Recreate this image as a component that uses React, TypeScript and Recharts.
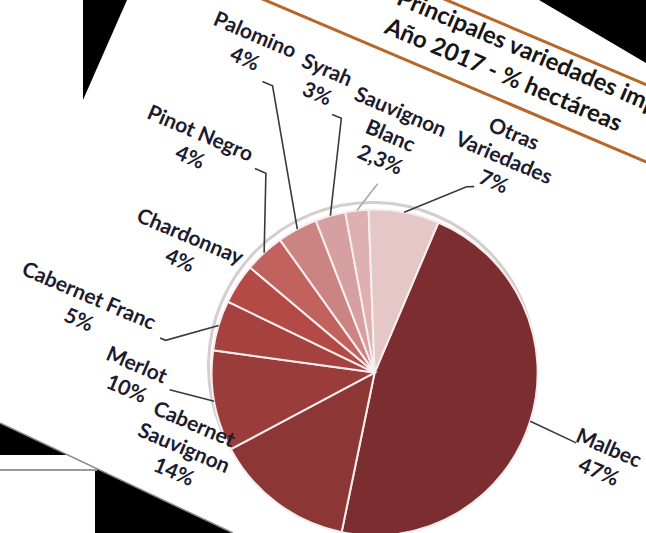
import React from "react";
import { PieChart, Pie, Cell } from "recharts";

// Superficie por variedad, año 2017 (% hectáreas)
const VARIETIES = [
  "Malbec", "Cabernet Sauvignon", "Merlot", "Cabernet Franc", "Chardonnay",
  "Pinot Negro", "Palomino", "Syrah", "Sauvignon Blanc", "Otras Variedades",
];
const SHARES = [47, 14, 10, 5, 4, 4, 4, 3, 2.3, 7];
const SHARE_TEXT = ["47%", "14%", "10%", "5%", "4%", "4%", "4%", "3%", "2,3%", "7%"];
const NAME_LINES = [
  ["Malbec"], ["Cabernet", "Sauvignon"], ["Merlot"], ["Cabernet Franc"], ["Chardonnay"],
  ["Pinot Negro"], ["Palomino"], ["Syrah"], ["Sauvignon", "Blanc"], ["Otras", "Variedades"],
];
const TITLE_LINES = ["Principales variedades implantadas", "Año 2017 - % hectáreas"];

const SLICE_COLORS = [
  "#7c2d2f", "#8c3635", "#9a3c3a", "#a5423f", "#b44a46",
  "#c2625f", "#cc8483", "#d6a0a0", "#deb0b1", "#e6c7c8",
];

// label centre + leader bend/end, relative to the pie centre (unrotated frame)
const LABEL_LAYOUT: { at: [number, number]; leader: [number, number][]; lineColor?: string }[] = [
  { at: [245, -11], leader: [[213, -14]] },
  { at: [-146, 142], leader: [] },
  { at: [-222, 97], leader: [[-182, 96]] },
  { at: [-293, 52], leader: [[-205, 52], [-211, 52]] },
  { at: [-223, -42], leader: [] },
  { at: [-254, -141], leader: [[-178, -141], [-190, -141]] },
  { at: [-242, -253], leader: [[-206, -224], [-217, -224]] },
  { at: [-162, -249], leader: [[-130, -221], [-140, -221]] },
  { at: [-78, -226], leader: [[-71, -175]], lineColor: "#a9a9a9" },
  { at: [35, -250], leader: [[12, -207], [19, -210]] },
];

const data = VARIETIES.map((name, i) => ({ name, value: SHARES[i] }));

const SIZE = 800;
const C = SIZE / 2;
const R = 163;
const LH = 26;
const FONT = "Lato, 'Open Sans', sans-serif";

const RAD = Math.PI / 180;

function renderLabel(props: any) {
  const { cx, cy, midAngle, outerRadius, index } = props;
  const lay = LABEL_LAYOUT[index];
  const lines = [...NAME_LINES[index], SHARE_TEXT[index]];
  const sx = cx + outerRadius * Math.cos(-midAngle * RAD);
  const sy = cy + outerRadius * Math.sin(-midAngle * RAD);
  const pts = [[sx, sy], ...lay.leader.map(([x, y]) => [cx + x, cy + y])];
  const lx = cx + lay.at[0];
  const ly = cy + lay.at[1] - ((lines.length - 1) * LH) / 2;
  return (
    <g key={`lbl-${index}`}>
      {lay.leader.length > 0 && (
        <polyline
          points={pts.map((p) => p.join(",")).join(" ")}
          fill="none"
          stroke={lay.lineColor ?? "#3a3a3a"}
          strokeWidth={1.6}
        />
      )}
      <text
        x={lx}
        y={ly}
        textAnchor="middle"
        dominantBaseline="central"
        fontFamily={FONT}
        fontWeight={700}
        fontSize={21}
        fill="#1c1c2e"
      >
        {lines.map((t, k) => (
          <tspan key={k} x={lx} y={ly + k * LH}>{t}</tspan>
        ))}
      </text>
    </g>
  );
}

export default function App() {
  return (
    <div style={{ position: "absolute", left: 0, top: 0, width: 646, height: 533, overflow: "hidden", background: "#fff" }}>
      {/* scanned-page background */}
      <svg width={646} height={533} style={{ position: "absolute", left: 0, top: 0 }}>
        <polygon points="83,0 127,0 83,100" fill="#000" />
        <polygon points="539,0 646,0 646,63" fill="#000" />
        <polygon points="0,423 233,533 0,533" fill="#000" />
        <polygon points="0,455 68,455 100,470 0,470" fill="#fff" />
        <rect x={0} y={471} width={95} height={62} fill="#fff" />
        <line x1={0} y1={470} x2={97} y2={470} stroke="#9a9a9a" strokeWidth={2} />
        <line x1={0} y1={423} x2={233} y2={533} stroke="#8a8a8a" strokeWidth={1.5} />
      </svg>

      <div
        style={{
          position: "absolute",
          left: 372 - C,
          top: 366 - C,
          width: SIZE,
          height: SIZE,
          transform: "rotate(23deg)",
          transformOrigin: `${C}px ${C}px`,
        }}
      >
        <svg width={SIZE} height={SIZE} style={{ position: "absolute", left: 0, top: 0 }}>
          <circle cx={C} cy={C} r={R + 0.5} fill="none" stroke="#d6cdcd" strokeWidth={3} />
          <line x1={0} y1={C - 366} x2={SIZE} y2={C - 366} stroke="#b8662a" strokeWidth={3} />
          <line x1={0} y1={C - 295} x2={SIZE} y2={C - 295} stroke="#b8662a" strokeWidth={3} />
          {TITLE_LINES.map((t, k) => (
            <text
              key={t}
              x={C - 120}
              y={C - 352 + k * 31}
              dominantBaseline="central"
              fontFamily={FONT}
              fontWeight={700}
              fontSize={24}
              fill="#161616"
            >
              {t}
            </text>
          ))}
        </svg>
        <PieChart width={SIZE} height={SIZE} style={{ position: "absolute", left: 0, top: 0 }}>
          <Pie
            data={data}
            dataKey="value"
            nameKey="name"
            cx={C}
            cy={C}
            outerRadius={R}
            startAngle={90}
            endAngle={-270}
            stroke="#f6eeee"
            strokeWidth={2}
            labelLine={false}
            label={renderLabel}
            isAnimationActive={false}
          >
            {data.map((d, i) => (
              <Cell key={d.name} fill={SLICE_COLORS[i]} />
            ))}
          </Pie>
        </PieChart>
      </div>
    </div>
  );
}
